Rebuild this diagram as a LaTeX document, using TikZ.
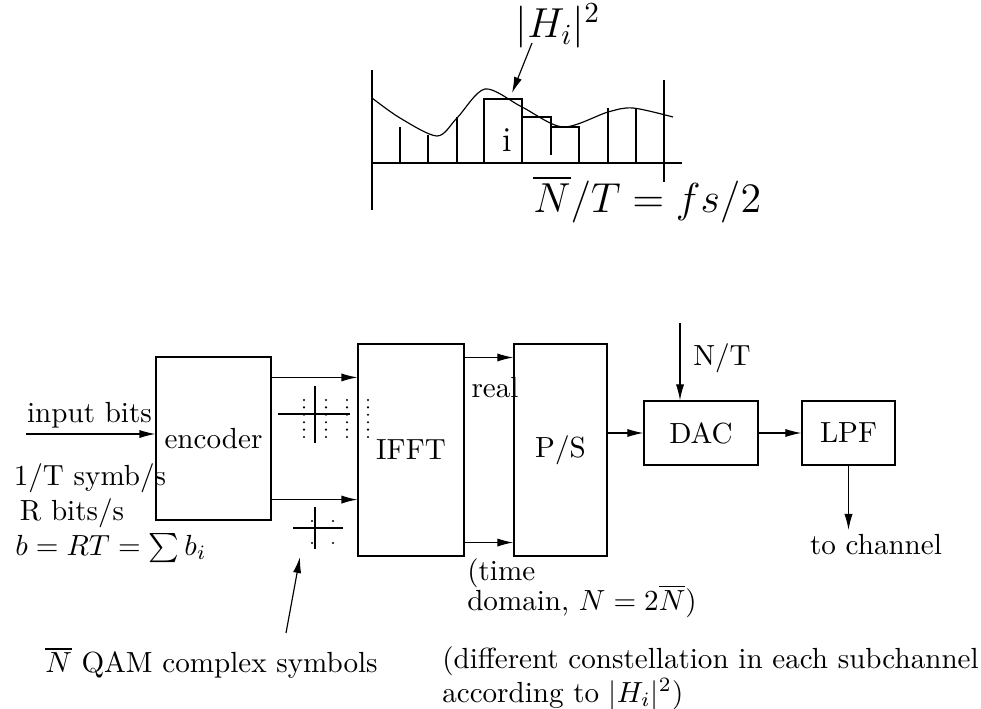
\documentclass[tikz,border=0pt]{standalone}
\usepackage{amsmath}
\usepackage{amssymb}
\usepackage{tikz}
\usetikzlibrary{arrows.meta, calc}

\tikzset{
  blk/.style={draw, inner sep=0pt}
}

\begin{document}
\begin{tikzpicture}[x=0.3436pt, y=-0.3436pt, >={Latex[length=5.5pt,width=2.8pt]}, line width=0.4pt]
  \useasboundingbox (0,0) rectangle (981,709);
  \draw (372,70) -- (372,210);
  \draw (664,80) -- (664,182);
  \draw (372,163) -- (682,163);
  \draw plot[smooth] coordinates {(372,98) (400,118) (437,136) (457,118) (485,89) (522,107) (563,127) (608,112) (633,108) (673,117)};
  \draw (400,163) -- (400,127);
  \draw (428,163) -- (428,135);
  \draw (457,163) -- (457,117);
  \draw (484,163) -- (484,99) -- (522,99) -- (522,163);
  \draw (522,117) -- (551,117) -- (551,155);
  \draw (551,127) -- (579,127) -- (579,163);
  \draw (608,163) -- (608,108);
  \draw (636,163) -- (636,108);
  \node[font=\Large] (hlab) at (558,26) {$|H_i|^2$};
  \coordinate (hfoot) at (532,43);
  \coordinate (htip) at (512,93);
  \draw[->] (hfoot) -- (htip);
  \node[font=\large] (sub) at (507,140) {i};
  \node[font=\Large, anchor=west] (fsl) at (523,199) {$\overline{N}/T = fs/2$};

  \node[blk, minimum width=39.5pt, minimum height=56pt] (enc) at (213.5,438.5) {encoder};
  \node[blk, minimum width=36.4pt, minimum height=72.8pt] (ifft) at (411,450) {IFFT};
  \node[blk, minimum width=32pt, minimum height=72.8pt] (ps) at (560.5,450) {P/S};
  \node[blk, minimum width=39.2pt, minimum height=22pt] (dac) at (701,433) {DAC};
  \node[blk, minimum width=32pt, minimum height=22pt] (lpf) at (848.5,433) {LPF};

  \coordinate (inp) at (26,434);
  \draw[->] (inp) -- (inp -| enc.west);
  \node (inlab) at (89.5,415) {input bits};
  \node (rate1) at (90,478) {1/T symb/s};
  \node (rate2) at (72,513) {R bits/s};
  \node (bits) at (111,548) {$b = RT = \sum b_i$};

  \coordinate (e1) at ($(enc.north east)+(0,21)$);
  \coordinate (e2) at ($(enc.south east)+(0,-21)$);
  \draw[->] (e1) -- (e1 -| ifft.west);
  \draw[->] (e2) -- (e2 -| ifft.west);
  \draw (278,414) -- (350,414);
  \draw (315,386) -- (315,443);
  \foreach \cx in {304,326,347,368}
    \foreach \cy in {400,407.4,414.8,422.2,429.6,437}
      \fill (\cx,\cy) circle (0.4pt);
  \draw (293,528) -- (343,528);
  \draw (315,507) -- (315,549);
  \foreach \cx in {312,333}
    \foreach \cy in {521,543}
      \fill (\cx,\cy) circle (0.4pt);
  \coordinate (qfoot) at (286,633);
  \coordinate (qtip) at (300,557);
  \draw[->] (qfoot) -- (qtip);
  \node[anchor=east] (qam) at (388,663) {$\overline{N}$ QAM complex symbols};

  \coordinate (f1) at ($(ifft.north east)+(0,14)$);
  \coordinate (f2) at ($(ifft.south east)+(0,-14)$);
  \draw[->] (f1) -- (f1 -| ps.west);
  \draw[->] (f2) -- (f2 -| ps.west);
  \node (real) at (495,388) {real};
  \node[anchor=west, align=left] (tdom) at (457,588) {(time\\[-1.7pt]domain, $N = 2\overline{N}$)};

  \draw[->] (dac.west -| ps.east) -- (dac.west);
  \draw[->] (dac) -- (lpf);
  \coordinate (clk) at (680,323);
  \draw[->] (clk) -- (clk |- dac.north);
  \node (nt) at (722,358) {N/T};
  \coordinate (chan) at (848.5,530);
  \draw[->] (lpf) -- (chan);
  \node (tochan) at (876,545) {to channel};
  \node[anchor=west, align=left] (constel) at (432,678) {(different constellation in each subchannel\\[-0.5pt]according to $|H_i|^2$)};
\end{tikzpicture}
\end{document}
